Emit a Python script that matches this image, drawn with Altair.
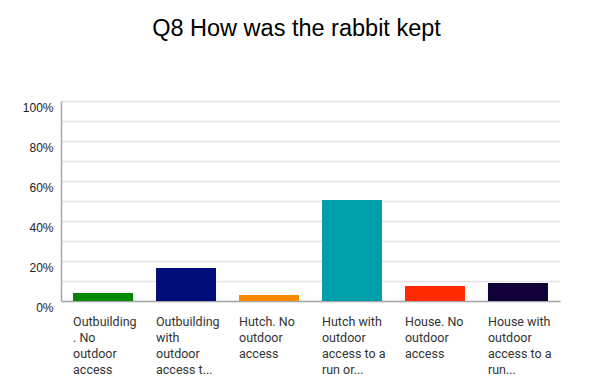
import altair as alt
import pandas as pd

categories = [
    "Outbuilding\n. No\noutdoor\naccess",
    "Outbuilding\nwith\noutdoor\naccess t...",
    "Hutch. No\noutdoor\naccess",
    "Hutch with\noutdoor\naccess to a\nrun or...",
    "House. No\noutdoor\naccess",
    "House with\noutdoor\naccess to a\nrun...",
]
values = [4.0, 16.5, 3.0, 50.5, 7.5, 9.0]
colors = ["#008a00", "#000e7a", "#ff8a00", "#00a0aa", "#ff2a00", "#100038"]
y_ticks = [0, 10, 20, 30, 40, 50, 60, 70, 80, 90, 100]

df = pd.DataFrame({"cat": categories, "value": values, "color": colors})

chart = alt.Chart(df).mark_bar().encode(
    x=alt.X(
        "cat:N",
        sort=categories,
        title=None,
        scale=alt.Scale(paddingInner=0.277, paddingOuter=0.145),
        axis=alt.Axis(
            labelAngle=0,
            labelAlign="left",
            labelBaseline="top",
            labelOffset=-30,
            labelPadding=14,
            labelExpr="split(datum.label, '\\n')",
            labelLineHeight=16,
            labelFont="Roboto",
            labelFontSize=12.5,
            labelColor="#333333",
            ticks=False,
            domainColor="#a6a6a6",
            domainWidth=1.5,
            labelLimit=200,
        ),
    ),
    y=alt.Y(
        "value:Q",
        title=None,
        scale=alt.Scale(domain=[0, 100], nice=False),
        axis=alt.Axis(
            values=y_ticks,
            labelExpr="datum.value % 20 == 0 ? datum.value + '%' : ''",
            ticks=False,
            labelBaseline="middle",
            labelOffset=6,
            labelPadding=8,
            labelFont="Liberation Sans",
            labelFontSize=12,
            labelColor="#222222",
            domainColor="#a6a6a6",
            domainWidth=1.5,
            gridColor="#e4e4e4",
            gridWidth=1.5,
        ),
    ),
    color=alt.Color("color:N", scale=None),
).properties(
    width=499,
    height=200,
    padding={"left": 53, "top": 93, "right": 43, "bottom": 75},
    autosize=alt.AutoSizeParams(type="none"),
    title=alt.TitleParams(
        "Q8 How was the rabbit kept",
        font="Liberation Sans",
        fontSize=23.5,
        fontWeight="normal",
        color="#000000",
        anchor="middle",
        baseline="alphabetic",
        offset=42,
        dx=-14,
    ),
).configure_view(stroke=None)

chart.save("out.html", embed_options={"renderer": "svg", "actions": False})
